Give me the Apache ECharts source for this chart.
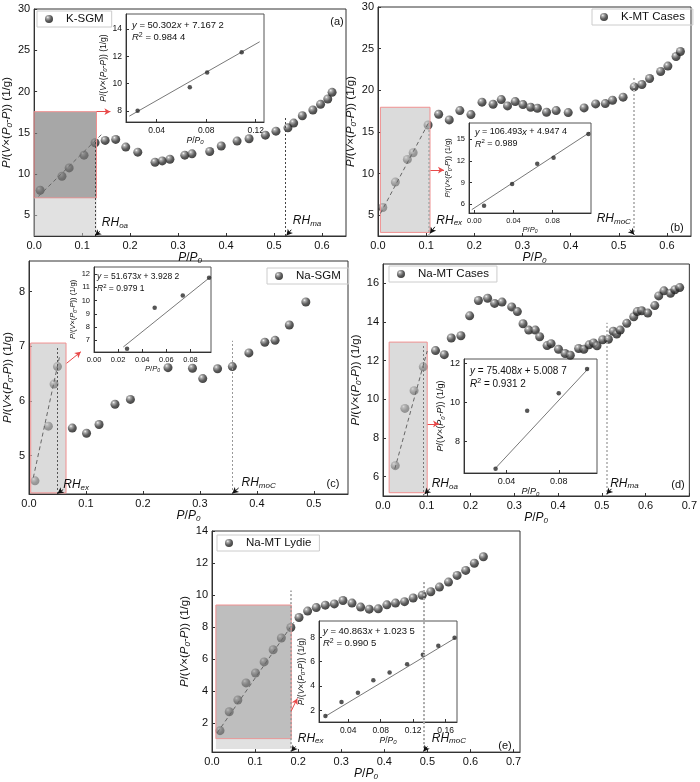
<!DOCTYPE html>
<html>
<head>
<meta charset="utf-8">
<script src="https://cdn.jsdelivr.net/npm/echarts@6/dist/echarts.min.js"></script>
<style>html,body{margin:0;padding:0;background:#fff}#fig{width:700px;height:782px}</style>
</head>
<body>
<div id="fig"></div>
<script>
// values, [P/P0, P/(V(P0-P))]
var kSgm = [[0.0125,8.04],[0.058,9.74],[0.073,10.75],[0.104,12.29],[0.127,13.8],[0.148,14.08],[0.170,14.2],[0.191,13.27],[0.216,12.66],[0.252,11.44],[0.267,11.6],[0.283,11.8],[0.314,12.29],[0.329,12.45],[0.366,12.74],[0.39,13.4],[0.423,14.0],[0.448,14.28],[0.482,14.72],[0.504,15.2],[0.529,15.6],[0.541,16.18],[0.559,17.07],[0.581,17.76],[0.597,18.45],[0.612,19.1],[0.621,19.9]];
var kSgmIn = [[0.0247,8.02],[0.0668,9.74],[0.0808,10.82],[0.1087,12.3]];
var kSgmFit = [[0.009,7.31],[0.144,15.0]];
var kSgmInFit = [[0.018,7.63],[0.1232,13.07]];

var kMt = [[0.010,5.92],[0.036,8.97],[0.061,11.70],[0.073,12.5],[0.104,15.83],[0.126,17.12],[0.148,16.44],[0.170,17.56],[0.193,17.08],[0.216,18.57],[0.239,18.32],[0.256,18.88],[0.269,18.12],[0.285,18.64],[0.301,18.28],[0.317,17.96],[0.331,17.84],[0.35,17.36],[0.37,17.56],[0.395,17.32],[0.428,17.88],[0.452,18.36],[0.472,18.4],[0.487,18.8],[0.509,19.17],[0.532,20.4],[0.548,20.69],[0.564,21.41],[0.587,22.26],[0.602,22.9],[0.619,24.06],[0.628,24.66]];
var kMtIn = [[0.0099,5.77],[0.0386,8.8],[0.0643,11.6],[0.081,12.43],[0.1166,15.73]];
var kMtFit = [[0.005,5.2],[0.106,16.2]];
var kMtInFit = [[-0.0027,5.22],[0.1186,16.0]];

var naSgm = [[0.0105,4.54],[0.034,5.54],[0.044,6.31],[0.050,6.63],[0.076,5.505],[0.101,5.41],[0.123,5.57],[0.151,5.94],[0.178,6.03],[0.244,6.61],[0.287,6.60],[0.305,6.41],[0.331,6.59],[0.357,6.63],[0.386,6.88],[0.414,7.075],[0.432,7.11],[0.457,7.39],[0.486,7.81]];
var naSgmIn = [[0.0274,6.37],[0.0503,9.46],[0.0736,10.39],[0.0954,11.72]];
var naSgmFit = [[0.0076,4.6],[0.054,6.83]];
var naSgmInFit = [[0.0243,6.5],[0.0965,11.78]];

var naMt = [[0.028,6.57],[0.050,9.53],[0.071,10.45],[0.092,11.68],[0.120,12.52],[0.140,12.31],[0.156,13.17],[0.178,13.29],[0.198,14.32],[0.218,15.11],[0.239,15.23],[0.255,14.96],[0.272,15.03],[0.294,14.78],[0.307,14.54],[0.32,13.91],[0.333,13.58],[0.348,13.58],[0.358,13.24],[0.375,12.78],[0.384,12.88],[0.401,12.59],[0.416,12.37],[0.428,12.28],[0.447,12.63],[0.459,12.59],[0.471,12.82],[0.481,12.92],[0.489,12.77],[0.502,13.08],[0.515,13.11],[0.526,13.52],[0.534,13.38],[0.542,13.58],[0.557,13.93],[0.573,14.27],[0.581,14.54],[0.591,14.58],[0.605,14.46],[0.621,14.85],[0.630,15.35],[0.642,15.61],[0.657,15.49],[0.667,15.67],[0.678,15.78]];
var naMtIn = [[0.0316,6.6],[0.0558,9.57],[0.08,10.47],[0.1017,11.71]];
var naMtFit = [[0.027,6.4],[0.101,12.5]];
var naMtInFit = [[0.0316,6.63],[0.1032,11.77]];

var lydie = [[0.0186,1.54],[0.040,2.72],[0.060,3.45],[0.079,4.52],[0.101,5.14],[0.121,5.83],[0.142,6.59],[0.161,7.32],[0.183,7.98],[0.202,8.6],[0.222,9.0],[0.242,9.22],[0.263,9.37],[0.284,9.45],[0.304,9.66],[0.325,9.5],[0.345,9.25],[0.365,9.12],[0.386,9.14],[0.406,9.39],[0.426,9.5],[0.447,9.59],[0.467,9.82],[0.488,9.99],[0.508,10.21],[0.528,10.5],[0.549,10.81],[0.569,11.23],[0.589,11.54],[0.609,11.99],[0.63,12.39]];
var lydieIn = [[0.012,1.52],[0.0318,2.68],[0.052,3.43],[0.071,4.47],[0.091,5.1],[0.1126,5.79],[0.132,6.57],[0.151,7.31],[0.171,7.97]];
var lydieFit = [[0.012,1.4],[0.19,8.3]];
var lydieInFit = [[0.012,1.5],[0.172,7.95]];

// tick labels
var xT6 = [0,0.1,0.2,0.3,0.4,0.5,0.6];
var xT5 = [0,0.1,0.2,0.3,0.4,0.5];
var xT7 = [0,0.1,0.2,0.3,0.4,0.5,0.6,0.7];
var yT30 = [5,10,15,20,25,30];
var yTc = [5,6,7,8];
var yTd = [6,8,10,12,14,16];
var yTe = [2,4,6,8,10,12,14];

var FONT = '"Liberation Sans", Arial, sans-serif';
var ball = {type:'radial', x:0.35, y:0.3, r:0.8, colorStops:[
  {offset:0, color:'#f4f4f4'},{offset:0.18, color:'#9a9a9a'},{offset:0.55, color:'#363636'},{offset:0.9, color:'#141414'},{offset:1, color:'#3a3a18'}]};

function rich(fs) {
  return {
    i: {fontStyle:'italic', fontSize:fs, fontFamily:FONT, color:'#111'},
    s: {fontStyle:'italic', fontSize:Math.round(fs*0.7), fontFamily:FONT, color:'#111', padding:[Math.round(fs*0.5),0,0,0]},
    u: {fontSize:Math.round(fs*0.7), fontFamily:FONT, color:'#111', padding:[0,0,Math.round(fs*0.5),0]}
  };
}
var X_NAME = '{i|P}/{i|P}{s|0}';
var Y_NAME = '{i|P}/({i|V}×({i|P}{s|0}-{i|P})) (1/g)';

function axis(gi, range, ticks, dec, fs, nameFs, gap, isX) {
  return {
    type:'value', gridIndex:gi, min:range[0], max:range[1],
    name: isX ? X_NAME : Y_NAME, nameLocation:'middle', nameGap:gap,
    nameTextStyle:{fontSize:nameFs, fontFamily:FONT, color:'#111', rich:rich(nameFs)},
    axisLine:{show:true, onZero:false, lineStyle:{color:'#333', width:1}},
    axisTick:{show:true, inside:true, length:3, customValues:ticks, lineStyle:{color:'#333'}},
    axisLabel:{customValues:ticks, fontSize:fs, fontFamily:FONT, color:'#111', margin:4,
      formatter:function (v) { return v.toFixed(dec); }},
    splitLine:{show:false}
  };
}

function vline(x, y0, y1, color, w) {
  return [{coord:[x,y0], symbol:'none', lineStyle:{color:color, width:w, type:[2,2]}}, {coord:[x,y1], symbol:'none'}];
}
function arrow(x0, y0, x1, y1, color) {
  return [{coord:[x0,y0], symbol:'none', lineStyle:{color:color, width:1, type:'solid'}}, {coord:[x1,y1], symbol:'arrow', symbolSize:[5,6]}];
}
function shade(x0, y0, x1, y1, fill, border) {
  return [{coord:[x0,y0], itemStyle:{color:fill, borderColor:border || 'transparent', borderWidth:border ? 1 : 0}}, {coord:[x1,y1]}];
}
function rh(x, y, sub) {
  return {coord:[x,y], symbol:'circle', symbolSize:0.1, itemStyle:{color:'transparent'},
    label:{show:true, position:'right', distance:0, formatter:'{i|RH}{s|' + sub + '}', rich:rich(12), fontSize:12}};
}

var RED = '#e84a4a', PINK = '#f09090';
var panels = [
  {name:'K-SGM', pts:kSgm, fit:kSgmFit, inPts:kSgmIn, inFit:kSgmInFit,
   grid:{left:34, top:9, width:312, height:227}, x:[0,0.65], xt:xT6, y:[2.5,30], yt:yT30, xGap:13, yGap:18,
   inGrid:{left:126, top:14, width:138, height:108}, ix:[0.0153,0.1267], ixt:[0.04,0.08,0.12], iy:[7.2,15.1], iyt:[8,10,12,14], inFs:8.5, ixGap:11, iyGap:9,
   areas:[shade(0,7.11,0.13,17.56,'rgba(125,125,125,0.68)',PINK), shade(0,2.5,0.13,7.11,'rgba(200,200,200,0.55)')],
   lines:[vline(0.127,2.5,14.0,'#444',1), vline(0.523,2.5,16.8,'#444',1), arrow(0.13,17.56,0.159,17.56,RED),
          arrow(0.137,3.05,0.127,2.55,'#111'), arrow(0.536,3.26,0.526,2.57,'#111')],
   rh:[rh(0.141,4.15,'oa'), rh(0.539,4.4,'ma')],
   legend:{left:37, top:11}, letter:[337,22,'(a)'],
   eq:[132,25,'{i|y} = 50.302{i|x} + 7.167 2','{i|R}{u|2} = 0.984 4',9.5]},
  {name:'K-MT Cases', pts:kMt, fit:kMtFit, inPts:kMtIn, inFit:kMtInFit,
   grid:{left:378, top:7, width:313, height:229}, x:[0,0.65], xt:xT6, y:[2.5,30], yt:yT30, xGap:13, yGap:15,
   inGrid:{left:469, top:123, width:122, height:90}, ix:[-0.0055,0.1193], ixt:[0,0.04,0.08], iy:[4.76,17.25], iyt:[6,9,12,15], inFs:7.5, ixGap:9, iyGap:8,
   areas:[shade(0.005,2.93,0.108,17.96,'rgba(195,195,195,0.6)',PINK)],
   lines:[vline(0.106,2.5,15.8,'#aaa',1.5), vline(0.532,2.5,21.65,'#bbb',2), arrow(0.109,10.42,0.137,10.42,RED),
          arrow(0.118,3.6,0.108,2.8,'#111'), arrow(0.523,3.27,0.532,2.67,'#111')],
   rh:[rh(0.121,4.4,'ex'), rh(0.454,4.6,'moC')],
   legend:{left:592, top:9}, letter:[677,228,'(b)'],
   eq:[475,132,'{i|y} = 106.493{i|x} + 4.947 4','{i|R}{u|2} = 0.989',9]},
  {name:'Na-SGM', pts:naSgm, fit:naSgmFit, inPts:naSgmIn, inFit:naSgmInFit,
   grid:{left:29, top:261, width:319, height:233}, x:[0,0.56], xt:xT5, y:[4.3,8.56], yt:yTc, xGap:13, yGap:13,
   inGrid:{left:94, top:267, width:117, height:85}, ix:[0,0.097], ixt:[0,0.02,0.04,0.06,0.08], iy:[6.12,12.53], iyt:[7,8,9,10,11,12], inFs:7.5, ixGap:9, iyGap:8,
   areas:[shade(0.003,4.32,0.065,7.06,'rgba(195,195,195,0.6)',PINK)],
   lines:[vline(0.050,4.3,6.97,'#555',1), vline(0.357,4.3,7.1,'#999',1), arrow(0.066,6.69,0.091,6.9,RED),
          arrow(0.060,4.38,0.050,4.31,'#111'), arrow(0.368,4.41,0.357,4.31,'#111')],
   rh:[rh(0.060,4.47,'ex'), rh(0.373,4.5,'moC')],
   legend:{left:267, top:268}, letter:[333,484,'(c)'],
   eq:[97,277,'{i|y} = 51.673{i|x} + 3.928 2','{i|R}{u|2} = 0.979 1',8.5]},
  {name:'Na-MT Cases', pts:naMt, fit:naMtFit, inPts:naMtIn, inFit:naMtInFit,
   grid:{left:383, top:264, width:308, height:232}, x:[0,0.7], xt:xT7, y:[5,17], yt:yTd, xGap:13, yGap:19,
   inGrid:{left:464, top:359, width:133, height:114}, ix:[0.0074,0.1093], ixt:[0.04,0.08], iy:[6.38,12.22], iyt:[8,10,12], inFs:9, ixGap:10, iyGap:9,
   areas:[shade(0.014,5.17,0.101,12.96,'rgba(195,195,195,0.6)',PINK)],
   lines:[vline(0.093,5,12.8,'#777',1), vline(0.512,5,13.96,'#aaa',1.5), arrow(0.102,8.73,0.128,8.73,RED),
          arrow(0.107,5.37,0.095,5.1,'#111'), arrow(0.522,5.37,0.511,5.1,'#111')],
   rh:[rh(0.111,5.62,'oa'), rh(0.519,5.66,'ma')],
   legend:{left:389, top:266}, letter:[678,485,'(d)'],
   eq:[470,371,'{i|y} = 75.408{i|x} + 5.008 7','{i|R}{u|2} = 0.931 2',10]},
  {name:'Na-MT Lydie', pts:lydie, fit:lydieFit, inPts:lydieIn, inFit:lydieInFit,
   grid:{left:212, top:531, width:308, height:223}, x:[0,0.715], xt:xT7, y:[0.2,14], yt:yTe, xGap:13, yGap:16,
   inGrid:{left:319, top:621, width:138, height:101}, ix:[0.0041,0.174], ixt:[0.04,0.08,0.12,0.16], iy:[1.03,9.35], iyt:[2,4,6,8], inFs:8.5, ixGap:10, iyGap:8,
   areas:[shade(0.009,1.04,0.184,9.38,'rgba(150,150,150,0.62)',PINK), shade(0.009,0.4,0.184,1.04,'rgba(200,200,200,0.55)')],
   lines:[vline(0.182,0.2,10.28,'#999',1.5), vline(0.491,0.2,10.9,'#aaa',2), arrow(0.184,2.77,0.198,3.55,RED),
          arrow(0.194,0.55,0.184,0.24,'#111'), arrow(0.5,0.55,0.491,0.24,'#111')],
   rh:[rh(0.199,1.07,'ex'), rh(0.51,1.07,'moC')],
   legend:{left:217, top:535}, letter:[505,746,'(e)'],
   eq:[323,631,'{i|y} = 40.863{i|x} + 1.023 5','{i|R}{u|2} = 0.990 5',9.5]}
];

var grids = [], xAxes = [], yAxes = [], series = [], legends = [], graphics = [];
panels.forEach(function (p, k) {
  var m = 2*k, n = 2*k + 1;
  grids.push(Object.assign({show:true, borderColor:'#333', borderWidth:1, backgroundColor:'transparent'}, p.grid));
  grids.push(Object.assign({show:true, borderColor:'#555', borderWidth:1, backgroundColor:'transparent'}, p.inGrid));
  xAxes.push(axis(m, p.x, p.xt, 1, 11, 12, p.xGap, true));
  yAxes.push(axis(m, p.y, p.yt, 0, 11, 11.5, p.yGap, false));
  xAxes.push(axis(n, p.ix, p.ixt, 2, p.inFs, p.inFs, p.ixGap, true));
  yAxes.push(axis(n, p.iy, p.iyt, 0, p.inFs, p.inFs, p.iyGap, false));

  series.push({type:'scatter', name:p.name, xAxisIndex:m, yAxisIndex:m, data:p.pts, symbolSize:9,
    itemStyle:{color:ball}, z:1});
  series.push({type:'line', xAxisIndex:m, yAxisIndex:m, data:p.fit, symbol:'none', silent:true, z:4,
    lineStyle:{color:'#666', width:1, type:[4,3]},
    markArea:{z:3, silent:true, data:p.areas},
    markLine:{z:5, silent:true, symbol:'none', label:{show:false}, data:p.lines},
    markPoint:{z:5, silent:true, data:p.rh}});
  series.push({type:'scatter', xAxisIndex:n, yAxisIndex:n, data:p.inPts, symbolSize:4.5,
    itemStyle:{color:'#2a2a2a'}, z:3});
  series.push({type:'line', xAxisIndex:n, yAxisIndex:n, data:p.inFit, symbol:'none', silent:true, z:2,
    lineStyle:{color:'#555', width:0.8}});

  legends.push({data:[p.name], left:p.legend.left, top:p.legend.top, orient:'horizontal',
    padding:[2,8,2,8], borderColor:'#ccc', borderWidth:1, itemWidth:8, itemHeight:8, icon:'circle',
    textStyle:{fontSize:11.5, fontFamily:FONT, color:'#111', padding:[0,0,0,8]}, selectedMode:false});

  graphics.push({type:'text', x:p.letter[0], y:p.letter[1],
    style:{text:p.letter[2], fontSize:11, fontFamily:FONT, fill:'#111', align:'center', verticalAlign:'middle'}});
  graphics.push({type:'text', x:p.eq[0], y:p.eq[1],
    style:{text:p.eq[2], fontSize:p.eq[4], fontFamily:FONT, fill:'#111', verticalAlign:'middle', rich:rich(p.eq[4])}});
  graphics.push({type:'text', x:p.eq[0], y:p.eq[1] + p.eq[4] + 3,
    style:{text:p.eq[3], fontSize:p.eq[4], fontFamily:FONT, fill:'#111', verticalAlign:'middle', rich:rich(p.eq[4])}});
});

var chart = echarts.init(document.getElementById('fig'), null, {renderer:'canvas'});
chart.setOption({
  backgroundColor:'#fff',
  animation:false,
  textStyle:{fontFamily:FONT},
  grid:grids, xAxis:xAxes, yAxis:yAxes,
  legend:legends,
  graphic:graphics,
  series:series
});
</script>
</body>
</html>
